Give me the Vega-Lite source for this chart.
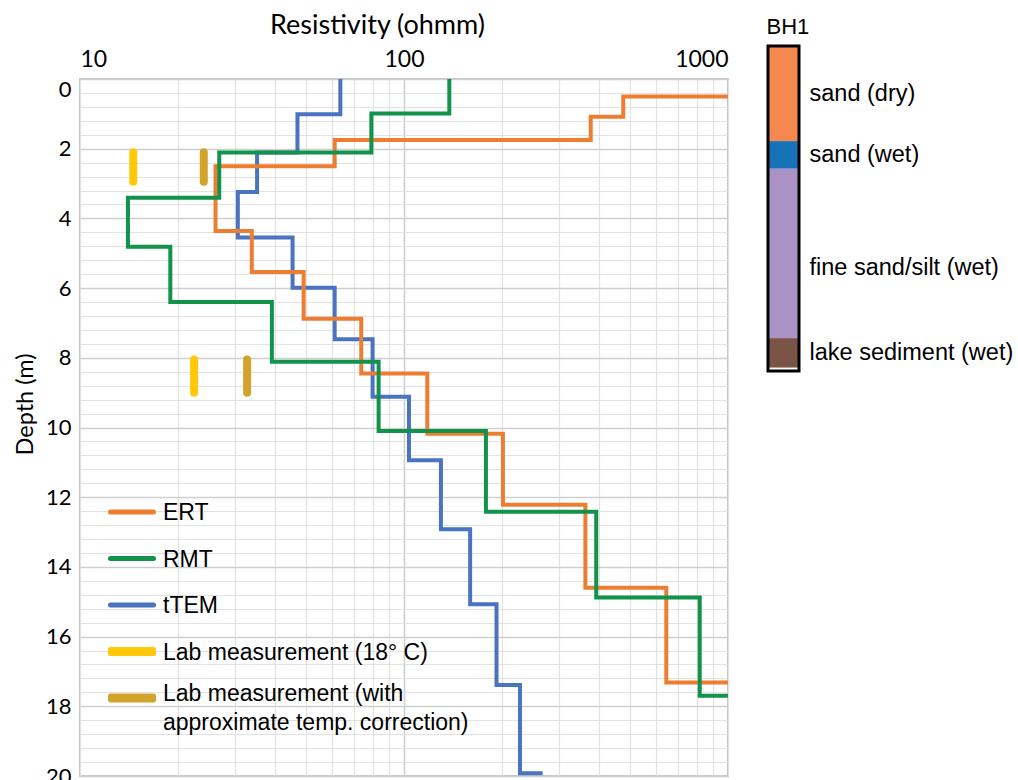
{
  "$schema": "https://vega.github.io/schema/vega-lite/v6.json",
  "background": "white",
  "padding": {"left": 12, "top": 10, "right": 0, "bottom": 0},
  "spacing": 37,
  "config": {
    "view": {"stroke": null},
    "title": {"font": "Liberation Sans", "fontWeight": "normal", "color": "black"}
  },
  "resolve": {
    "scale": {"x": "independent", "y": "independent", "color": "independent"},
    "legend": {"color": "independent"}
  },
  "hconcat": [
    {
      "width": 648,
      "height": 697,
      "view": {"stroke": "#c4c4c4", "strokeWidth": 2},
      "layer": [
        {
          "data": {
            "values": [
              {"series": "tTEM", "depth": 0, "resistivity": 63.6},
              {"series": "tTEM", "depth": 1.01, "resistivity": 46.9},
              {"series": "tTEM", "depth": 2.11, "resistivity": 35.2},
              {"series": "tTEM", "depth": 3.24, "resistivity": 30.7},
              {"series": "tTEM", "depth": 4.55, "resistivity": 45.3},
              {"series": "tTEM", "depth": 5.99, "resistivity": 61.1},
              {"series": "tTEM", "depth": 7.47, "resistivity": 80},
              {"series": "tTEM", "depth": 9.12, "resistivity": 103.6},
              {"series": "tTEM", "depth": 10.94, "resistivity": 130},
              {"series": "tTEM", "depth": 12.92, "resistivity": 160},
              {"series": "tTEM", "depth": 15.07, "resistivity": 193},
              {"series": "tTEM", "depth": 17.39, "resistivity": 228},
              {"series": "tTEM", "depth": 19.92, "resistivity": 268},
              {"series": "ERT", "depth": 0, "resistivity": 2000},
              {"series": "ERT", "depth": 0.5, "resistivity": 475},
              {"series": "ERT", "depth": 1.08, "resistivity": 377},
              {"series": "ERT", "depth": 1.75, "resistivity": 61.1},
              {"series": "ERT", "depth": 2.5, "resistivity": 26.2},
              {"series": "ERT", "depth": 4.36, "resistivity": 33.9},
              {"series": "ERT", "depth": 5.54, "resistivity": 49},
              {"series": "ERT", "depth": 6.88, "resistivity": 73.8},
              {"series": "ERT", "depth": 8.45, "resistivity": 118},
              {"series": "ERT", "depth": 10.18, "resistivity": 202},
              {"series": "ERT", "depth": 12.22, "resistivity": 363},
              {"series": "ERT", "depth": 14.6, "resistivity": 645},
              {"series": "ERT", "depth": 17.32, "resistivity": 2000},
              {"series": "RMT", "depth": 0, "resistivity": 138},
              {"series": "RMT", "depth": 0.99, "resistivity": 79.3},
              {"series": "RMT", "depth": 2.11, "resistivity": 26.9},
              {"series": "RMT", "depth": 3.41, "resistivity": 14.06},
              {"series": "RMT", "depth": 4.81, "resistivity": 19.0},
              {"series": "RMT", "depth": 6.4, "resistivity": 39.1},
              {"series": "RMT", "depth": 8.11, "resistivity": 83.5},
              {"series": "RMT", "depth": 10.1, "resistivity": 179},
              {"series": "RMT", "depth": 12.42, "resistivity": 392},
              {"series": "RMT", "depth": 14.88, "resistivity": 818},
              {"series": "RMT", "depth": 17.7, "resistivity": 2000}
            ]
          },
          "mark": {"type": "line", "interpolate": "step-before", "strokeWidth": 4, "clip": true},
          "encoding": {
            "x": {
              "field": "resistivity",
              "type": "quantitative",
              "scale": {"type": "log", "domain": [10, 1000], "nice": false},
              "axis": {
                "orient": "top",
                "title": "Resistivity (ohmm)",
                "titleFont": "Lato",
                "titleFontSize": 27,
                "titleFontWeight": "normal",
                "titleColor": "black",
                "titlePadding": 9,
                "titleX": 297,
                "tickCount": 200,
                "values": [10, 20, 30, 40, 50, 60, 70, 80, 90, 100, 200, 300, 400, 500, 600, 700, 800, 900, 1000],
                "labelExpr": "datum.value === 10 || datum.value === 100 || datum.value === 1000 ? '' + datum.value : ''",
                "labelFlush": true,
                "labelOverlap": false,
                "labelFont": "Lato",
                "labelFontSize": 23,
                "labelColor": "black",
                "labelPadding": 8,
                "ticks": false,
                "domain": false,
                "grid": true,
                "gridColor": {"condition": {"test": "datum.value === 100", "value": "#cfcfcf"}, "value": "#e2e2e2"},
                "gridWidth": {"condition": {"test": "datum.value === 100", "value": 1.6}, "value": 1.2}
              }
            },
            "y": {
              "field": "depth",
              "type": "quantitative",
              "scale": {"domain": [0, 20], "reverse": true, "nice": false, "zero": false},
              "axis": {
                "title": "Depth (m)",
                "titleFont": "Lato",
                "titleFontSize": 23.5,
                "titleFontWeight": "normal",
                "titleColor": "black",
                "titlePadding": 8,
                "titleY": 325,
                "tickCount": 200,
                "values": [0, 0.4, 0.8, 1.2, 1.6, 2, 2.4, 2.8, 3.2, 3.6, 4, 4.4, 4.8, 5.2, 5.6, 6, 6.4, 6.8, 7.2, 7.6, 8, 8.4, 8.8, 9.2, 9.6, 10, 10.4, 10.8, 11.2, 11.6, 12, 12.4, 12.8, 13.2, 13.6, 14, 14.4, 14.8, 15.2, 15.6, 16, 16.4, 16.8, 17.2, 17.6, 18, 18.4, 18.8, 19.2, 19.6, 20],
                "labelExpr": "datum.value % 2 === 0 ? '' + datum.value : ''",
                "labelBaseline": {"condition": {"test": "datum.value === 0", "value": "top"}, "value": "middle"},
                "labelOverlap": false,
                "labelFont": "Lato",
                "labelFontSize": 22,
                "labelColor": "black",
                "labelPadding": 9,
                "ticks": false,
                "domain": false,
                "grid": true,
                "gridColor": {"condition": {"test": "datum.value % 2 === 0", "value": "#cfcfcf"}, "value": "#e2e2e2"},
                "gridWidth": {"condition": {"test": "datum.value % 2 === 0", "value": 1.6}, "value": 1.2}
              }
            },
            "order": {"field": "depth", "type": "quantitative"},
            "color": {
              "field": "series",
              "type": "nominal",
              "scale": {
                "domain": ["ERT", "RMT", "tTEM", "Lab measurement (18° C)", "Lab measurement (with approximate temp. correction)"],
                "range": ["#ED7D31", "#12924A", "#4A73C0", "#FFC90A", "#D2A42C"]
              },
              "legend": {
                "title": null,
                "orient": "none",
                "legendX": 28,
                "legendY": 409,
                "padding": 0,
                "symbolType": "stroke",
                "symbolSize": 1849,
                "symbolStrokeWidth": 5,
                "labelFont": "Liberation Sans",
                "labelFontSize": 23,
                "labelColor": "black",
                "labelLimit": 600,
                "labelOffset": 7,
                "labelBaseline": "alphabetic",
                "rowPadding": 9.5,
                "labelExpr": "datum.label === 'Lab measurement (with approximate temp. correction)' ? ['Lab measurement (with', 'approximate temp. correction)'] : datum.label",
                "encode": {
                  "symbols": {
                    "update": {
                      "shape": {"signal": "indexof(datum.value, 'Lab') === 0 ? 'M-1,-0.093H1V0.093H-1Z' : 'stroke'"},
                      "strokeWidth": {"value": 5},
                      "strokeCap": {"value": "round"},
                      "strokeJoin": {"value": "round"}
                    }
                  },
                  "labels": {
                    "update": {
                      "lineHeight": {"value": 29},
                      "dy": {"signal": "datum.value === 'Lab measurement (with approximate temp. correction)' ? 3 : 8"}
                    }
                  }
                }
              }
            }
          }
        },
        {
          "data": {
            "values": [
              {"series": "Lab measurement (18° C)", "resistivity": 14.6, "top": 2.1, "bottom": 2.95},
              {"series": "Lab measurement (18° C)", "resistivity": 22.5, "top": 8.05, "bottom": 9.0},
              {"series": "Lab measurement (with approximate temp. correction)", "resistivity": 24.1, "top": 2.1, "bottom": 2.95},
              {"series": "Lab measurement (with approximate temp. correction)", "resistivity": 32.8, "top": 8.05, "bottom": 9.0}
            ]
          },
          "mark": {"type": "rule", "strokeWidth": 8, "strokeCap": "round"},
          "encoding": {
            "x": {"field": "resistivity", "type": "quantitative"},
            "y": {"field": "top", "type": "quantitative"},
            "y2": {"field": "bottom"},
            "color": {"field": "series", "type": "nominal"}
          }
        }
      ]
    },
    {
      "width": 31,
      "height": 292,
      "title": {"text": "BH1", "anchor": "start", "fontSize": 22, "offset": 6},
      "data": {
        "values": [
          {"unit": "sand (dry)", "top": 0, "bottom": 2.75},
          {"unit": "sand (wet)", "top": 2.75, "bottom": 3.55},
          {"unit": "fine sand/silt (wet)", "top": 3.55, "bottom": 8.45},
          {"unit": "lake sediment (wet)", "top": 8.45, "bottom": 9.3}
        ]
      },
      "transform": [{"calculate": "(datum.top + datum.bottom) / 2", "as": "mid"}],
      "layer": [
        {
          "mark": {"type": "rect"},
          "encoding": {
            "y": {"field": "top", "type": "quantitative", "scale": {"domain": [0.954, 9.4], "reverse": true, "nice": false, "zero": false}, "axis": null},
            "y2": {"field": "bottom"},
            "color": {
              "field": "unit",
              "type": "nominal",
              "scale": {
                "domain": ["sand (dry)", "sand (wet)", "fine sand/silt (wet)", "lake sediment (wet)"],
                "range": ["#F5884F", "#1872B8", "#AB92C4", "#7A5547"]
              },
              "legend": null
            }
          }
        },
        {
          "mark": {
            "type": "text",
            "align": "left",
            "baseline": "middle",
            "dx": 26,
            "dy": {"expr": "datum.unit === 'fine sand/silt (wet)' ? 15 : 0"},
            "font": "Liberation Sans",
            "fontSize": 23.5,
            "color": "black"
          },
          "encoding": {
            "y": {"field": "mid", "type": "quantitative"},
            "text": {"field": "unit"}
          }
        },
        {
          "data": {"values": [{"unit": "BH1", "top": 0, "bottom": 9.4}]},
          "mark": {"type": "rect", "fillOpacity": 0, "stroke": "black", "strokeWidth": 3},
          "encoding": {
            "y": {"field": "top", "type": "quantitative"},
            "y2": {"field": "bottom"}
          }
        }
      ]
    }
  ]
}
